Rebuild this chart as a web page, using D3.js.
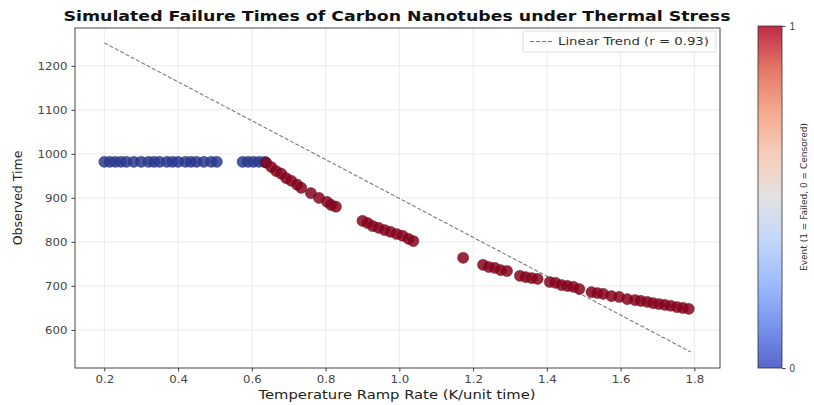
<!DOCTYPE html>
<html><head><meta charset="utf-8">
<script src="https://cdn.jsdelivr.net/npm/d3@7"></script>
<style>body{margin:0;background:#fff}svg{display:block;font-family:"DejaVu Sans",sans-serif}</style>
</head><body><svg id="c" width="814" height="405"></svg>
<script>
const rate = [0.20,0.215,0.23,0.245,0.26,0.28,0.30,0.32,0.335,0.35,0.37,0.385,0.40,0.42,0.435,0.45,0.47,0.49,0.505,0.575,0.59,0.605,0.62,0.635,
 0.639,0.653,0.666,0.68,0.693,0.707,0.723,0.734,0.76,0.782,0.804,0.815,0.828,
 0.90,0.914,0.928,0.944,0.96,0.976,0.993,1.009,1.025,1.038,
 1.173,1.227,1.243,1.259,1.275,1.292,1.327,1.343,1.359,1.375,
 1.408,1.424,1.44,1.456,1.472,1.488,
 1.521,1.537,1.553,1.575,1.596,1.618,1.639,1.655,1.672,1.688,1.704,1.72,1.736,1.753,1.769,1.785];
const time = [982,982,982,982,982,982,982,982,982,982,982,982,982,982,982,982,982,982,982,982,982,982,982,982,
 980,970,961,955,945,939,930,923,911,900,891,884,880,
 848,843,836,832,827,823,818,814,807,802,
 764,748,743,741,736,734,723,720,718,716,
 709,707,702,700,698,693,
 686,684,682,677,675,670,668,666,664,661,659,657,655,652,650,648];
const eventFlag = rate.map((r,i)=> i<24 ? 0 : 1);
const trendX = [0.2, 1.79];
const trendY = [1252, 550];
const xTicks = [0.2,0.4,0.6,0.8,1.0,1.2,1.4,1.6,1.8];
const yTicks = [600,700,800,900,1000,1100,1200];
const cbTicks = [0,1];
const titleText = "Simulated Failure Times of Carbon Nanotubes under Thermal Stress";
const xLabel = "Temperature Ramp Rate (K/unit time)";
const yLabel = "Observed Time";
const legendLabel = "Linear Trend (r = 0.93)";
const cbLabel = "Event (1 = Failed, 0 = Censored)";

const coolwarmStops = ["#3b4cc0","#6282ea","#8db0fe","#b8d0f9","#dddddd","#f5c4ad","#f49a7b","#de604d","#b40426"];
const cw = d3.scaleLinear().domain(d3.range(9).map(i=>i/8)).range(coolwarmStops).interpolate(d3.interpolateRgb);

const svg = d3.select("#c");
const L=75,R=720,T=28,B=368;
const x = d3.scaleLinear().domain([0.1205,1.8695]).range([L,R]);
const y = d3.scaleLinear().domain([513.6,1286]).range([B,T]);

function stretch(sel, f){ sel.each(function(){ const w=this.getComputedTextLength(); d3.select(this).attr("textLength",w*f).attr("lengthAdjust","spacingAndGlyphs"); }); }

// grid
const g = svg.append("g");
g.selectAll(".gx").data(xTicks).enter().append("line").attr("x1",d=>x(d)).attr("x2",d=>x(d)).attr("y1",T).attr("y2",B).attr("stroke","#e6e6e6").attr("stroke-width",0.8);
g.selectAll(".gy").data(yTicks).enter().append("line").attr("y1",d=>y(d)).attr("y2",d=>y(d)).attr("x1",L).attr("x2",R).attr("stroke","#e6e6e6").attr("stroke-width",0.8);

// trend
svg.append("line").attr("x1",x(trendX[0])).attr("y1",y(trendY[0])).attr("x2",x(trendX[1])).attr("y2",y(trendY[1]))
 .attr("stroke","#7a7a7a").attr("stroke-width",1.1).attr("stroke-dasharray","4,2");

// points
svg.append("g").selectAll("circle").data(rate).enter().append("circle")
 .attr("cx",(d)=>x(d)).attr("cy",(d,i)=>y(time[i])).attr("r",5.6)
 .attr("fill",(d,i)=>d3.interpolateRgb(cw(eventFlag[i]),"#000")(0.25)).attr("fill-opacity",0.85)
 .attr("stroke",(d,i)=>eventFlag[i]?"#5a0010":"#1c2460").attr("stroke-opacity",0.6).attr("stroke-width",0.6);

// axes
const xa = svg.append("g").attr("transform",`translate(0,${B})`).call(d3.axisBottom(x).tickValues(xTicks).tickSize(3.5).tickPadding(4).tickFormat(d3.format(".1f")));
const ya = svg.append("g").attr("transform",`translate(${L},0)`).call(d3.axisLeft(y).tickValues(yTicks).tickSize(3.5).tickPadding(4).tickFormat(d3.format("d")));
[xa,ya].forEach(a=>{a.select(".domain").remove();a.selectAll("text").attr("font-size",10.5).attr("fill","#444").attr("font-family","DejaVu Sans");a.selectAll("line").attr("stroke","#444");});
stretch(xa.selectAll("text"),1.12);
stretch(ya.selectAll("text"),1.12);
svg.append("rect").attr("x",L).attr("y",T).attr("width",R-L).attr("height",B-T).attr("fill","none").attr("stroke","#333").attr("stroke-width",0.9);

// title & labels
const tt = svg.append("text").attr("x",397).attr("y",21).attr("text-anchor","middle").attr("font-weight","bold").attr("font-size",14).attr("fill","#111").text(titleText);
tt.attr("textLength",667).attr("lengthAdjust","spacingAndGlyphs");
svg.append("text").attr("x",397).attr("y",399).attr("text-anchor","middle").attr("font-size",12.5).attr("fill","#222").text(xLabel)
 .attr("textLength",277).attr("lengthAdjust","spacingAndGlyphs");
svg.append("text").attr("transform",`translate(22,${(T+B)/2}) rotate(-90)`).attr("text-anchor","middle").attr("font-size",12.5).attr("fill","#222").text(yLabel);

// legend
const lg = svg.append("g");
lg.append("rect").attr("x",523).attr("y",31).attr("width",193).attr("height",21).attr("fill","#fff").attr("fill-opacity",0.9).attr("stroke","#ddd").attr("rx",2);
lg.append("line").attr("x1",530).attr("x2",552).attr("y1",41.5).attr("y2",41.5).attr("stroke","#7a7a7a").attr("stroke-width",1.1).attr("stroke-dasharray","4,2");
lg.append("text").attr("x",558).attr("y",45).attr("font-size",10).attr("fill","#333").text(legendLabel)
 .attr("textLength",151).attr("lengthAdjust","spacingAndGlyphs");

// colorbar
const cbX=758,cbW=24,cbT=26,cbB=368;
const defs = svg.append("defs");
const grad = defs.append("linearGradient").attr("id","cwg").attr("x1","0").attr("y1","1").attr("x2","0").attr("y2","0");
coolwarmStops.forEach((c,i)=>grad.append("stop").attr("offset",(i/8*100)+"%").attr("stop-color",c));
svg.append("rect").attr("x",cbX).attr("y",cbT).attr("width",cbW).attr("height",cbB-cbT).attr("fill","url(#cwg)").attr("fill-opacity",0.85).attr("stroke","#333").attr("stroke-width",0.8);
const cy = d3.scaleLinear().domain([0,1]).range([cbB,cbT]);
const ca = svg.append("g").attr("transform",`translate(${cbX+cbW},0)`).call(d3.axisRight(cy).tickValues(cbTicks).tickSize(3.5).tickPadding(4).tickFormat(d3.format("d")));
ca.select(".domain").remove();
ca.selectAll("text").attr("font-size",10).attr("fill","#444");
ca.selectAll("line").attr("stroke","#444");
svg.append("text").attr("transform",`translate(807,${(cbT+cbB)/2}) rotate(-90)`).attr("text-anchor","middle").attr("font-size",9).attr("fill","#333").text(cbLabel);
</script></body></html>
